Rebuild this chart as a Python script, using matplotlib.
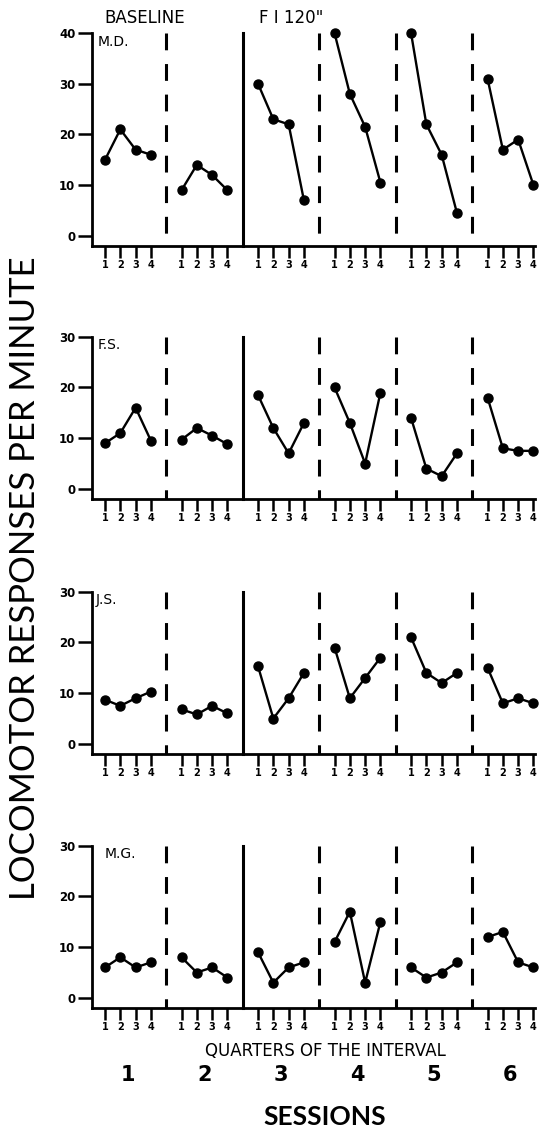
import matplotlib.pyplot as plt

# ---------------------------------------------------------------
# ---------------- Data: responses per minute -------------------
# ---------------------------------------------------------------
# one list per session (1-6), four quarters of the interval each
subjects = ['M.D.', 'F.S.', 'J.S.', 'M.G.']
sessions = ['1', '2', '3', '4', '5', '6']
quarters = [1, 2, 3, 4]
y_tops = [40, 30, 30, 30]

md = [[15, 21, 17, 16], [9, 14, 12, 9], [30, 23, 22, 7],
      [40, 28, 21.5, 10.5], [40, 22, 16, 4.5], [31, 17, 19, 10]]
fs = [[9, 11, 16, 9.5], [9.7, 12, 10.5, 8.8], [18.5, 12, 7, 13],
      [20, 13, 5, 19], [14, 4, 2.5, 7], [18, 8, 7.5, 7.5]]
js = [[8.7, 7.5, 9, 10.3], [6.8, 5.8, 7.5, 6], [15.3, 5, 9, 14],
      [19, 9, 13, 17], [21, 14, 12, 14], [15, 8, 9, 8]]
mg = [[6, 8, 6, 7], [8, 5, 6, 4], [9, 3, 6, 7],
      [11, 17, 3, 15], [6, 4, 5, 7], [12, 13, 7, 6]]
all_data = [md, fs, js, mg]

# ---------------------------------------------------------------
# ---------------- Figure layout (pixel based) ------------------
# ---------------------------------------------------------------
W, H = 560, 1131
fig = plt.figure(figsize=(W / 100, H / 100), dpi=100)


def fx(px):
    return px / W


def fy(py):
    return 1 - py / H


narrow = ['Liberation Sans Narrow', 'DejaVu Sans']
scale = 5.07            # px per unit on the y axes
baselines = [246, 499, 754, 1008]
left_px, right_px = 92, 535
label_x = [0.5, 0.5, 0.4, 1.0]

for i, (name, data) in enumerate(zip(subjects, all_data)):
    top = y_tops[i]
    h_px = (top + 2) * scale
    ax = fig.add_axes([fx(left_px), fy(baselines[i]), (right_px - left_px) / W, h_px / H])
    ax.set_xlim(0.15, 29.1)
    ax.set_ylim(-2, top)

    # session dividers: dashed, solid after baseline (drawn top -> bottom)
    for s in range(1, 6):
        if s == 2:
            ax.plot([5 * s, 5 * s], [top, -2], color='k', lw=2.2, clip_on=False)
        else:
            ax.plot([5 * s, 5 * s], [top, -2], color='k', lw=2.2, ls=(0, (5.5, 4.5)), clip_on=False)

    # data
    for s in range(6):
        xs = [5 * s + q for q in quarters]
        ax.plot(xs, data[s], '-o', color='k', lw=1.7, ms=6.5, clip_on=False)

    # ------ Axes styling --------
    for side in ['top', 'right']:
        ax.spines[side].set_visible(False)
    for side in ['left', 'bottom']:
        ax.spines[side].set_linewidth(2.0)
    ax.set_yticks(range(0, top + 1, 10), labels=[str(v) for v in range(0, top + 1, 10)],
                  fontweight='bold', fontsize=8.5)
    ax.set_xticks([5 * s + q for s in range(6) for q in quarters],
                  labels=[str(q) for s in range(6) for q in quarters],
                  fontweight='bold', fontsize=7)
    ax.tick_params(axis='y', length=10, width=1.8, pad=2)
    ax.tick_params(axis='x', length=8.5, width=1.8, pad=1.5)

    ax.text(label_x[i], top - 0.3, name, va='top', ha='left', fontsize=10, family=narrow)

# ------ Header / footer text --------
fig.text(fx(145), fy(18), 'BASELINE', ha='center', va='center', fontsize=12, family=narrow)
fig.text(fx(291), fy(18), 'F I 120"', ha='center', va='center', fontsize=12, family=narrow)
fig.text(fx(325), fy(1051), 'QUARTERS OF THE INTERVAL', ha='center', va='center', fontsize=12, family=narrow)
for s, lab in enumerate(sessions):
    fig.text(fx(105 + (2.5 + 5 * s - 1) * 15.28), fy(1075), lab, ha='center', va='center',
             fontsize=15, fontweight='bold')
fig.text(fx(325), fy(1117), 'SESSIONS', ha='center', va='center', fontsize=19,
         family='Lato', fontweight='bold')
fig.text(fx(25), fy(578), 'LOCOMOTOR RESPONSES PER MINUTE', rotation=90, ha='center', va='center',
         fontsize=25, family='Lato')

fig.savefig('out.png', dpi=100)
